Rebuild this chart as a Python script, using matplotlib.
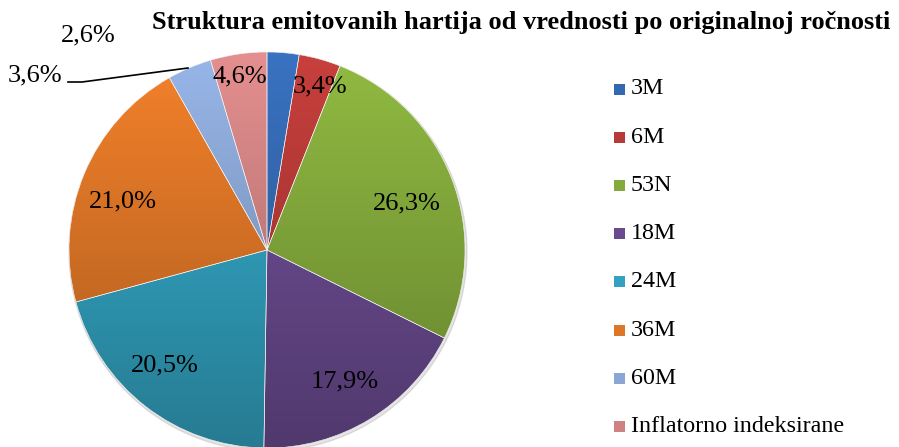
import numpy as np
import matplotlib
matplotlib.use("Agg")
import matplotlib.pyplot as plt
from matplotlib.colors import to_rgb
from matplotlib.patches import Rectangle

# ---- data ----
categories = ["3M", "6M", "53N", "18M", "24M", "36M", "60M", "Inflatorno indeksirane"]
shares = [2.6, 3.4, 26.3, 17.9, 20.5, 21.0, 3.6, 4.6]
value_labels = ["2,6%", "3,4%", "26,3%", "17,9%", "20,5%", "21,0%", "3,6%", "4,6%"]
title = "Struktura emitovanih hartija od vrednosti po originalnoj ročnosti"

# ---- style ----
base_colors = ["#3468B0", "#B63A37", "#84AA3C", "#6A4B90", "#32A2C0", "#DE7627", "#8AA6D4", "#D08282"]
W, H = 899, 447
cx, cy_px, R = 267, 250, 198
cy = H - cy_px
# label positions in pixel coords (x, y from top)
label_pos = [(88, 35), (320, 86), (407, 203), (345, 381), (165, 365), (123, 201), (35, 75), (240, 76)]

plt.rcParams["font.family"] = ["Liberation Serif", "DejaVu Serif"]

fig = plt.figure(figsize=(W / 100, H / 100), dpi=100)
ax = fig.add_axes([0, 0, 1, 1])
wedges, _ = ax.pie(shares, startangle=90, counterclock=False, center=(cx, cy), radius=R,
                   wedgeprops=dict(linewidth=0.4, edgecolor="#f4f4f4"))
ax.set_xlim(0, W)
ax.set_ylim(0, H)
ax.set_aspect("auto")
ax.axis("off")

# shadow
shadow = plt.Circle((cx + 1, cy - 2), R + 1, color="#000000", alpha=0.10, zorder=0.5)
ax.add_patch(shadow)

# vertical gradient fill for each wedge
n = 256
t = np.linspace(0, 1, n)[:, None]  # 0 top -> 1 bottom
fac = 1.10 - 0.34 * t
for w, c in zip(wedges, base_colors):
    rgb = np.array(to_rgb(c))
    arr = np.clip(fac[:, :, None] * rgb[None, None, :], 0, 1)
    arr = np.repeat(arr, 2, axis=1)
    im = ax.imshow(arr, extent=(cx - R, cx + R, cy - R, cy + R), origin="upper",
                   aspect="auto", zorder=1, interpolation="bilinear")
    im.set_clip_path(w)
    w.set_facecolor("none")
    w.set_zorder(2)

for lbl, (px, py) in zip(value_labels, label_pos):
    ax.text(px, H - py, lbl, ha="center", va="center", fontsize=19, color="#000000", zorder=5)

# leader line for 3,6%
ax.plot([68, 82, 188], [H - 82, H - 82, H - 68], color="#000000", lw=1.2, zorder=4)

ax.text(521, H - 22, title, ha="center", va="center", fontsize=19, fontweight="bold", zorder=5)

# legend
leg_x, leg_y0, leg_dy, sq = 614, 89, 48.2, 11
for i, (cat, c) in enumerate(zip(categories, base_colors)):
    y = H - (leg_y0 + i * leg_dy)
    ax.add_patch(Rectangle((leg_x, y - sq / 2), sq, sq, facecolor=c, edgecolor="none", zorder=5))
    ax.text(leg_x + 17, y, cat, ha="left", va="center", fontsize=17.3, zorder=5)

fig.savefig("out.png", dpi=100)
